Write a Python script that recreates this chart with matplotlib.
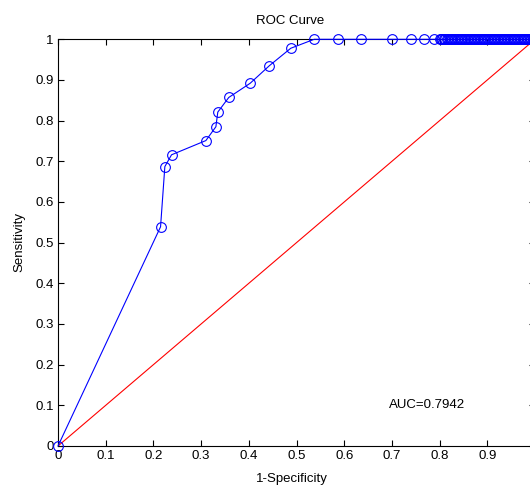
import matplotlib
matplotlib.use("Agg")
import matplotlib.pyplot as plt

plt.rcParams['font.family'] = ['Liberation Sans', 'DejaVu Sans']

# ROC points (1-Specificity, Sensitivity)
fpr = [0.0, 0.215, 0.224, 0.238, 0.310, 0.331, 0.335, 0.358, 0.403, 0.443,
       0.488, 0.537, 0.588, 0.635, 0.700, 0.741, 0.767, 0.788,
       0.800, 0.803, 0.806, 0.809, 0.812, 0.815, 0.818, 0.821, 0.824, 0.827,
       0.830, 0.833, 0.836, 0.839, 0.842, 0.845, 0.848, 0.851, 0.854, 0.857,
       0.860, 0.863, 0.866, 0.869, 0.872, 0.875, 0.878, 0.881, 0.884, 0.887,
       0.890, 0.893, 0.896, 0.899, 0.902, 0.905, 0.908, 0.911, 0.914, 0.917,
       0.920, 0.923, 0.926, 0.929, 0.932, 0.935, 0.938, 0.941, 0.944, 0.947,
       0.950, 0.953, 0.956, 0.959, 0.962, 0.965, 0.968, 0.971, 0.974, 0.977,
       0.980, 0.983, 0.986, 0.989, 0.992, 0.995, 0.998]
tpr = [0.0, 0.539, 0.687, 0.716, 0.751, 0.785, 0.821, 0.857, 0.892, 0.935,
       0.978, 1.0, 1.0, 1.0, 1.0, 1.0, 1.0, 1.0,
       1.0, 1.0, 1.0, 1.0, 1.0, 1.0, 1.0, 1.0, 1.0, 1.0,
       1.0, 1.0, 1.0, 1.0, 1.0, 1.0, 1.0, 1.0, 1.0, 1.0,
       1.0, 1.0, 1.0, 1.0, 1.0, 1.0, 1.0, 1.0, 1.0, 1.0,
       1.0, 1.0, 1.0, 1.0, 1.0, 1.0, 1.0, 1.0, 1.0, 1.0,
       1.0, 1.0, 1.0, 1.0, 1.0, 1.0, 1.0, 1.0, 1.0, 1.0,
       1.0, 1.0, 1.0, 1.0, 1.0, 1.0, 1.0, 1.0, 1.0, 1.0,
       1.0, 1.0, 1.0, 1.0, 1.0, 1.0, 1.0]
diag_x = [0, 1]
diag_y = [0, 1]
ticks = [0, 0.1, 0.2, 0.3, 0.4, 0.5, 0.6, 0.7, 0.8, 0.9, 1]
x_tick_labels = ['0', '0.1', '0.2', '0.3', '0.4', '0.5', '0.6', '0.7', '0.8', '0.9', '']
y_tick_labels = ['0', '0.1', '0.2', '0.3', '0.4', '0.5', '0.6', '0.7', '0.8', '0.9', '1']
auc_text = 'AUC=0.7942'

W, H = 530, 488
FS = 9.5
fig = plt.figure(figsize=(W / 100, H / 100), dpi=100)
ax = fig.add_axes([58 / W, 42 / H, 477 / W, 406.7 / H])

ax.plot(fpr, tpr, '-o', color=(0, 0, 1), linewidth=0.8, markersize=7,
        markerfacecolor='none', markeredgecolor=(0, 0, 1), markeredgewidth=0.8,
        clip_on=False, zorder=3)
ax.plot(diag_x, diag_y, '-', color=(1, 0, 0), linewidth=0.8, zorder=2)

ax.set_xlim(0, 1)
ax.set_ylim(0, 1)
ax.set_xticks(ticks)
ax.set_xticklabels(x_tick_labels)
ax.set_yticks(ticks)
ax.set_yticklabels(y_tick_labels)
ax.tick_params(direction='in', length=4.3, width=0.8, top=True, right=True,
               labelsize=FS, pad=3, colors='black')
for s in ax.spines.values():
    s.set_linewidth(0.8)
    s.set_color('black')

ax.text(0.693, 0.1, auc_text, fontsize=FS, ha='left', va='center')

fig.text(290 / W, 1 - 21 / H, 'ROC Curve', fontsize=FS, ha='center', va='center')
fig.text(292 / W, 1 - 479 / H, '1-Specificity', fontsize=FS, ha='center', va='center')
fig.text(19 / W, 1 - 242 / H, 'Sensitivity', fontsize=FS, ha='center', va='center',
         rotation=90)

fig.savefig('out.png', dpi=100)
